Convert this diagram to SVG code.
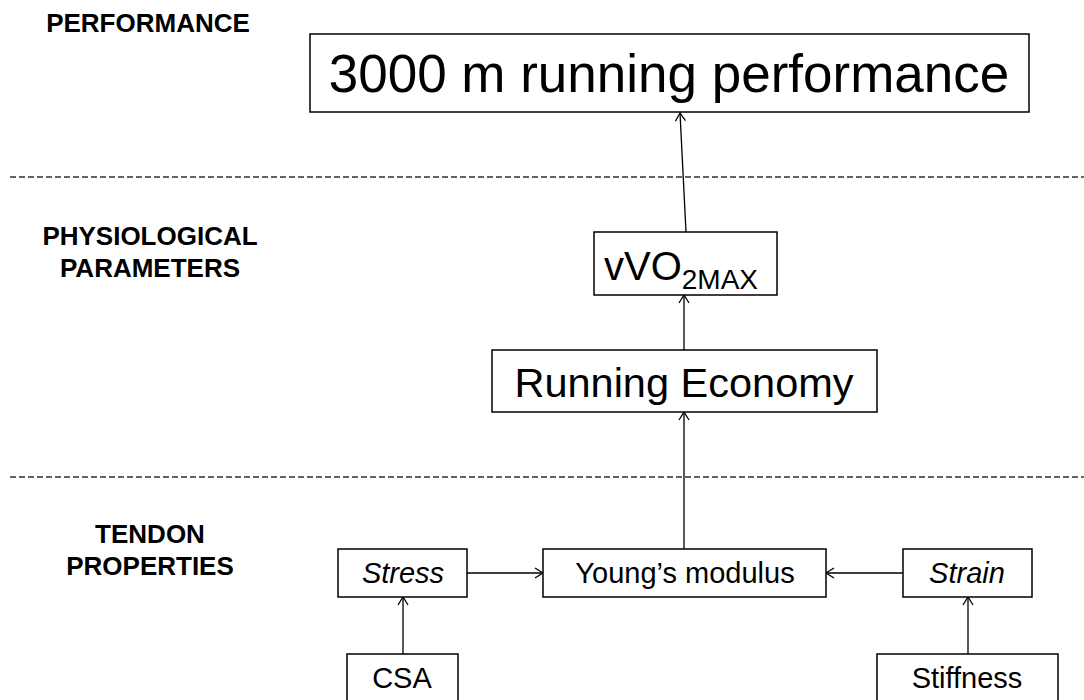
<svg xmlns="http://www.w3.org/2000/svg" width="1084" height="700" viewBox="0 0 1084 700">
<style>
.box{fill:#fff;stroke:#000;stroke-width:1.5}
.t{font-family:"Liberation Sans",Arial,sans-serif;fill:#000;text-anchor:middle}
.h{font-family:"Liberation Sans",Arial,sans-serif;font-weight:bold;font-size:26px;fill:#000;text-anchor:middle}
.c{stroke:#000;stroke-width:1.3;fill:none}
.d{stroke:#333;stroke-width:1.3;stroke-dasharray:6 3;fill:none}
</style>
<defs>
<marker id="a" markerUnits="userSpaceOnUse" markerWidth="14" markerHeight="14" viewBox="0 0 14 14" refX="12" refY="7" orient="auto">
<path d="M4,2 L12,7 L4,12" fill="none" stroke="#000" stroke-width="1.3"/>
</marker>
</defs>
<g id="labels">
<text class="h" x="148" y="32">PERFORMANCE</text>
<text class="h" x="150" y="245">PHYSIOLOGICAL</text>
<text class="h" x="150" y="277">PARAMETERS</text>
<text class="h" x="150" y="543">TENDON</text>
<text class="h" x="150" y="575">PROPERTIES</text>
</g>
<g id="dividers">
<line class="d" x1="10" y1="177" x2="1084" y2="177"/>
<line class="d" x1="10" y1="477" x2="1084" y2="477"/>
</g>
<g id="connectors">
<line class="c" x1="686" y1="232" x2="680" y2="113" marker-end="url(#a)"/>
<line class="c" x1="684" y1="350" x2="684" y2="295" marker-end="url(#a)"/>
<line class="c" x1="684" y1="549" x2="684" y2="412" stroke-width="1.8" marker-end="url(#a)"/>
<line class="c" x1="467" y1="573" x2="543" y2="573" marker-end="url(#a)"/>
<line class="c" x1="903" y1="573" x2="826" y2="573" marker-end="url(#a)"/>
<line class="c" x1="403" y1="654" x2="403" y2="597" marker-end="url(#a)"/>
<line class="c" x1="968" y1="654" x2="968" y2="597" marker-end="url(#a)"/>
</g>
<g id="performance">
<rect class="box" x="310" y="34" width="719" height="78" stroke-width="2.5"/>
<text class="t" x="669" y="92" font-size="53">3000 m running performance</text>
</g>
<g id="vvo2max">
<rect class="box" x="594" y="232" width="183" height="63"/>
<text class="t" x="681" y="280" font-size="40">vVO<tspan font-size="28" dy="9">2MAX</tspan></text>
</g>
<g id="running-economy">
<rect class="box" x="492" y="350" width="385" height="62"/>
<text class="t" x="684" y="397" font-size="41.5">Running Economy</text>
</g>
<g id="stress">
<rect class="box" x="338" y="549" width="129" height="48"/>
<text class="t" x="403" y="583" font-size="29" font-style="italic">Stress</text>
</g>
<g id="youngs-modulus">
<rect class="box" x="543" y="549" width="283" height="48"/>
<text class="t" x="685" y="583" font-size="29">Young’s modulus</text>
</g>
<g id="strain">
<rect class="box" x="903" y="549" width="129" height="48"/>
<text class="t" x="967" y="583" font-size="29" font-style="italic">Strain</text>
</g>
<g id="csa">
<rect class="box" x="347" y="654" width="111" height="60"/>
<text class="t" x="402" y="688" font-size="29">CSA</text>
</g>
<g id="stiffness">
<rect class="box" x="877" y="654" width="181" height="60"/>
<text class="t" x="967" y="688" font-size="29">Stiffness</text>
</g>
</svg>
